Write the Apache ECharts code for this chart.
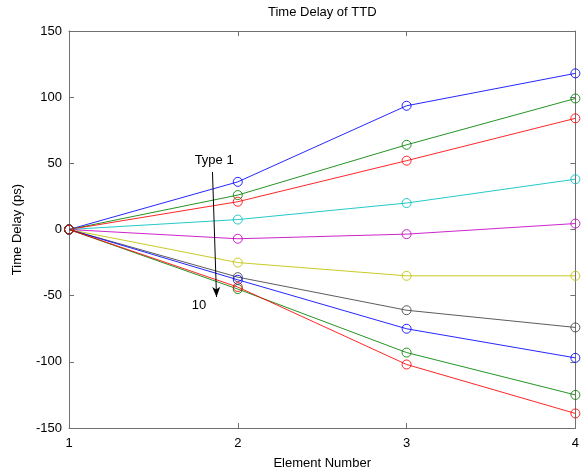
<!DOCTYPE html>
<html><head><meta charset="utf-8">
<script src="https://cdn.jsdelivr.net/npm/echarts@6/dist/echarts.min.js"></script>
<style>html,body{margin:0;padding:0;background:#fff}#c{width:582px;height:475px}</style>
</head><body><div id="c"></div>
<script>
// Data
const elementNumbers = [1, 2, 3, 4];
const type1  = [0, 36, 93.5, 118];
const type2  = [0, 26, 64, 99];
const type3  = [0, 21, 52, 84];
const type4  = [0, 7.5, 20, 38];
const type5  = [0, -7, -3.5, 4.5];
const type6  = [0, -25, -35, -35];
const type7  = [0, -36, -61, -74];
const type8  = [0, -38, -75, -97];
const type9  = [0, -45, -93, -125];
const type10 = [0, -43.5, -102, -139];
const seriesValues = [type1, type2, type3, type4, type5, type6, type7, type8, type9, type10];
const seriesNames = ['Type 1','Type 2','Type 3','Type 4','Type 5','Type 6','Type 7','Type 8','Type 9','Type 10'];
const yTicks = [-150, -100, -50, 0, 50, 100, 150];
const xTicks = [1, 2, 3, 4];
const chartTitle = 'Time Delay of TTD';
const xName = 'Element Number';
const yName = 'Time Delay (ps)';
// annotation (data coordinates)
const arrowFrom = [1.85, 43.5];
const arrowTo = [1.874, -51];
const labelTop = {text: 'Type 1', at: [1.86, 52]};
const labelBottom = {text: '10', at: [1.77, -57]};

const colors = ['#0000ff','#008000','#ff0000','#00bfbf','#bf00bf','#bfbf00','#404040','#0000ff','#008000','#ff0000'];
const FONT = "'Liberation Sans', Arial, Helvetica, sans-serif";
const axisColor = '#707070';

const chart = echarts.init(document.getElementById('c'), null, {renderer: 'canvas'});

const series = seriesValues.map((vals, i) => ({
  name: seriesNames[i],
  type: 'line',
  xAxisIndex: 0, yAxisIndex: 0,
  data: elementNumbers.map((x, k) => [x, vals[k]]),
  symbol: 'circle',
  symbolSize: 9,
  showSymbol: true,
  itemStyle: {color: 'rgba(255,255,255,0)', borderColor: colors[i], borderWidth: 1, opacity: 0.85},
  lineStyle: {color: colors[i], width: 1, opacity: 0.85},
  emphasis: {disabled: true},
  silent: true,
  animation: false,
  z: 2 + i * 0.01
}));

series.push({
  type: 'line', xAxisIndex: 0, yAxisIndex: 0, data: [], silent: true, animation: false,
  markLine: {
    silent: true, animation: false,
    symbol: ['none', 'arrow'], symbolSize: [6, 10],
    label: {show: false},
    lineStyle: {color: '#000', width: 1, type: 'solid'},
    emphasis: {disabled: true},
    data: [[{coord: arrowFrom}, {coord: arrowTo}]]
  }
});

const axisCommon = {
  axisLine: {show: true, onZero: false, lineStyle: {color: axisColor, width: 1}},
  axisTick: {show: true, inside: true, length: 5, lineStyle: {color: axisColor}},
  splitLine: {show: false}
};

chart.setOption({
  animation: false,
  backgroundColor: '#fff',
  title: {
    text: chartTitle, left: 268, top: 6, padding: 0,
    textStyle: {fontFamily: FONT, fontSize: 13, fontWeight: 'normal', color: '#000'}
  },
  grid: {left: 69, right: 5, top: 31, bottom: 44, containLabel: false},
  xAxis: [
    Object.assign({
      type: 'value', position: 'bottom', min: xTicks[0], max: xTicks[xTicks.length-1], interval: 1,
      name: xName, nameLocation: 'middle', nameGap: 29,
      nameTextStyle: {fontFamily: FONT, fontSize: 13, color: '#000'},
      axisLabel: {fontFamily: FONT, fontSize: 13, color: '#000', margin: 9}
    }, axisCommon),
    Object.assign({
      type: 'value', position: 'top', min: xTicks[0], max: xTicks[xTicks.length-1], interval: 1,
      axisLabel: {show: false}
    }, axisCommon)
  ],
  yAxis: [
    Object.assign({
      type: 'value', position: 'left', min: yTicks[0], max: yTicks[yTicks.length-1], interval: 50,
      name: yName, nameLocation: 'middle', nameGap: 45,
      nameTextStyle: {fontFamily: FONT, fontSize: 13, color: '#000'},
      axisLabel: {fontFamily: FONT, fontSize: 13, color: '#000', margin: 7}
    }, axisCommon),
    Object.assign({
      type: 'value', position: 'right', min: yTicks[0], max: yTicks[yTicks.length-1], interval: 50,
      axisLabel: {show: false}
    }, axisCommon)
  ],
  series: series
});

const pTop = chart.convertToPixel({gridIndex: 0}, labelTop.at);
const pBot = chart.convertToPixel({gridIndex: 0}, labelBottom.at);
chart.setOption({
  graphic: [
    {type: 'text', x: pTop[0], y: pTop[1], silent: true,
     style: {text: labelTop.text, fontFamily: FONT, fontSize: 13, fill: '#000', textAlign: 'center', textVerticalAlign: 'middle'}},
    {type: 'text', x: pBot[0], y: pBot[1], silent: true,
     style: {text: labelBottom.text, fontFamily: FONT, fontSize: 13, fill: '#000', textAlign: 'center', textVerticalAlign: 'middle'}}
  ]
});
</script>
</body></html>
